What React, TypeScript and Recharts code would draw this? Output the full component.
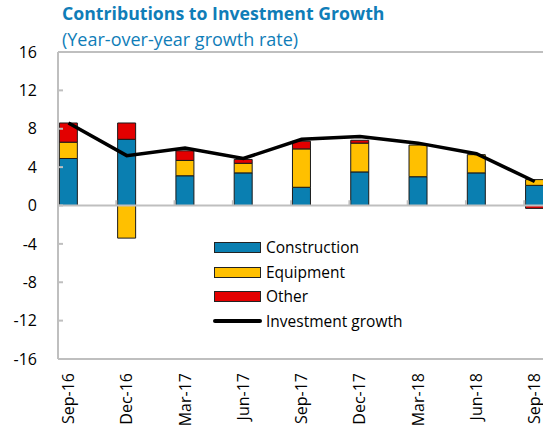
import React from "react";
import {
  ComposedChart,
  Bar,
  Line,
  XAxis,
  YAxis,
  ReferenceLine,
  Legend,
} from "recharts";

const categories = ["Sep-16", "Dec-16", "Mar-17", "Jun-17", "Sep-17", "Dec-17", "Mar-18", "Jun-18", "Sep-18"];
const construction = [4.9, 6.9, 3.1, 3.4, 1.9, 3.5, 3.0, 3.4, 2.1];
const equipment = [1.7, -3.4, 1.6, 1.0, 4.0, 3.0, 3.3, 1.9, 0.6];
const other = [2.0, 1.7, 1.0, 0.4, 0.8, 0.3, 0.0, 0.0, -0.3];
const growth = [8.6, 5.2, 6.0, 4.9, 6.9, 7.2, 6.5, 5.4, 2.5];
const yTicks = [-16, -12, -8, -4, 0, 4, 8, 12, 16];

const data = categories.map((c, i) => ({
  x: i,
  name: c,
  construction: construction[i],
  equipment: equipment[i],
  other: other[i],
  growth: growth[i],
}));

const FONT = "'Open Sans', sans-serif";
const BLUE = "#0A7FB1";
const YELLOW = "#FFC000";
const RED = "#E30000";
const GREY = "#BFBFBF";
const TITLE = "#0F7DB8";

const XTick = (props: any) => {
  const { x, y, payload } = props;
  const label = categories[payload.value] ?? "";
  return (
    <text
      x={x}
      y={y}
      transform={`rotate(-90, ${x}, ${y})`}
      textAnchor="end"
      dy="0.35em"
      fontSize={16}
      fontFamily={FONT}
      fill="#000"
    >
      {label}
    </text>
  );
};

const legendItems = [
  { label: "Construction", color: BLUE, type: "rect" },
  { label: "Equipment", color: YELLOW, type: "rect" },
  { label: "Other", color: RED, type: "rect" },
  { label: "Investment growth", color: "#000", type: "line" },
];

const LegendContent = () => (
  <div style={{ position: "relative", width: 230, height: 100, fontFamily: FONT }}>
    {legendItems.map((it, i) => {
      const cy = 10 + i * 24.7;
      return (
        <div key={it.label}>
          {it.type === "rect" ? (
            <div
              style={{
                position: "absolute",
                left: 2,
                top: cy - 5,
                width: 45,
                height: 9,
                background: it.color,
                border: "1px solid #222",
              }}
            />
          ) : (
            <div
              style={{
                position: "absolute",
                left: 1,
                top: cy - 2,
                width: 49,
                height: 4,
                background: "#000",
                borderRadius: 2,
              }}
            />
          )}
          <div
            style={{
              position: "absolute",
              left: 54,
              top: cy - 11,
              lineHeight: "22px",
              fontSize: 15.5,
              color: "#000",
              whiteSpace: "nowrap",
            }}
          >
            {it.label}
          </div>
        </div>
      );
    })}
  </div>
);

const boundaryTicks = [1, 2, 3, 4, 5, 6, 7, 8].map((k) => k - 0.18);

export default function App() {
  return (
    <div
      style={{
        position: "fixed",
        left: 0,
        top: 0,
        width: 543,
        height: 430,
        overflow: "hidden",
        background: "#fff",
      }}
    >
      <div
        style={{
          position: "absolute",
          left: 62,
          top: 1,
          fontFamily: FONT,
          fontWeight: 700,
          fontSize: 17.7,
          lineHeight: "24px",
          color: TITLE,
          whiteSpace: "nowrap",
        }}
      >
        Contributions to Investment Growth
      </div>
      <div
        style={{
          position: "absolute",
          left: 62,
          top: 26.5,
          fontFamily: FONT,
          fontSize: 18,
          lineHeight: "24px",
          color: TITLE,
          whiteSpace: "nowrap",
        }}
      >
        (Year-over-year growth rate)
      </div>
      <div style={{ position: "absolute", left: 0, top: 0 }}>
        <ComposedChart
          width={603}
          height={450}
          data={data}
          stackOffset="sign"
          margin={{ top: 52, right: 10, bottom: 0, left: 0 }}
        >
          <XAxis
            dataKey="x"
            type="number"
            domain={[-0.18, 9]}
            allowDataOverflow
            ticks={[0, 1, 2, 3, 4, 5, 6, 7, 8]}
            interval={0}
            height={91}
            tickLine={false}
            tickSize={6}
            tickMargin={8}
            axisLine={{ stroke: GREY, strokeWidth: 2 }}
            tick={<XTick />}
          />
          <YAxis
            type="number"
            domain={[-16, 16]}
            ticks={yTicks}
            interval={0}
            width={58}
            axisLine={{ stroke: GREY, strokeWidth: 2 }}
            tickLine={{ stroke: GREY, strokeWidth: 2 }}
            tickSize={-5}
            tickMargin={26}
            tick={{ fontSize: 16, fontFamily: FONT, fill: "#000" }}
          />
          <ReferenceLine y={16} stroke={GREY} strokeWidth={2} />
          <ReferenceLine y={0} stroke={GREY} strokeWidth={2} />
          {boundaryTicks.map((b) => (
            <ReferenceLine
              key={b}
              segment={[
                { x: b, y: 0 },
                { x: b, y: 0.55 },
              ]}
              stroke={GREY}
              strokeWidth={2}
            />
          ))}
          <Bar dataKey="construction" stackId="a" fill={BLUE} stroke="#1a1a1a" strokeWidth={1} barSize={18} isAnimationActive={false} />
          <Bar dataKey="equipment" stackId="a" fill={YELLOW} stroke="#1a1a1a" strokeWidth={1} barSize={18} isAnimationActive={false} />
          <Bar dataKey="other" stackId="a" fill={RED} stroke="#1a1a1a" strokeWidth={1} barSize={18} isAnimationActive={false} />
          <Line
            dataKey="growth"
            type="linear"
            stroke="#000"
            strokeWidth={3.5}
            dot={false}
            activeDot={false}
            isAnimationActive={false}
          />
          <Legend
            layout="vertical"
            align="center"
            verticalAlign="middle"
            content={<LegendContent />}
            wrapperStyle={{ position: "absolute", left: 212, top: 237, width: 230, height: 100 }}
          />
        </ComposedChart>
      </div>
    </div>
  );
}
